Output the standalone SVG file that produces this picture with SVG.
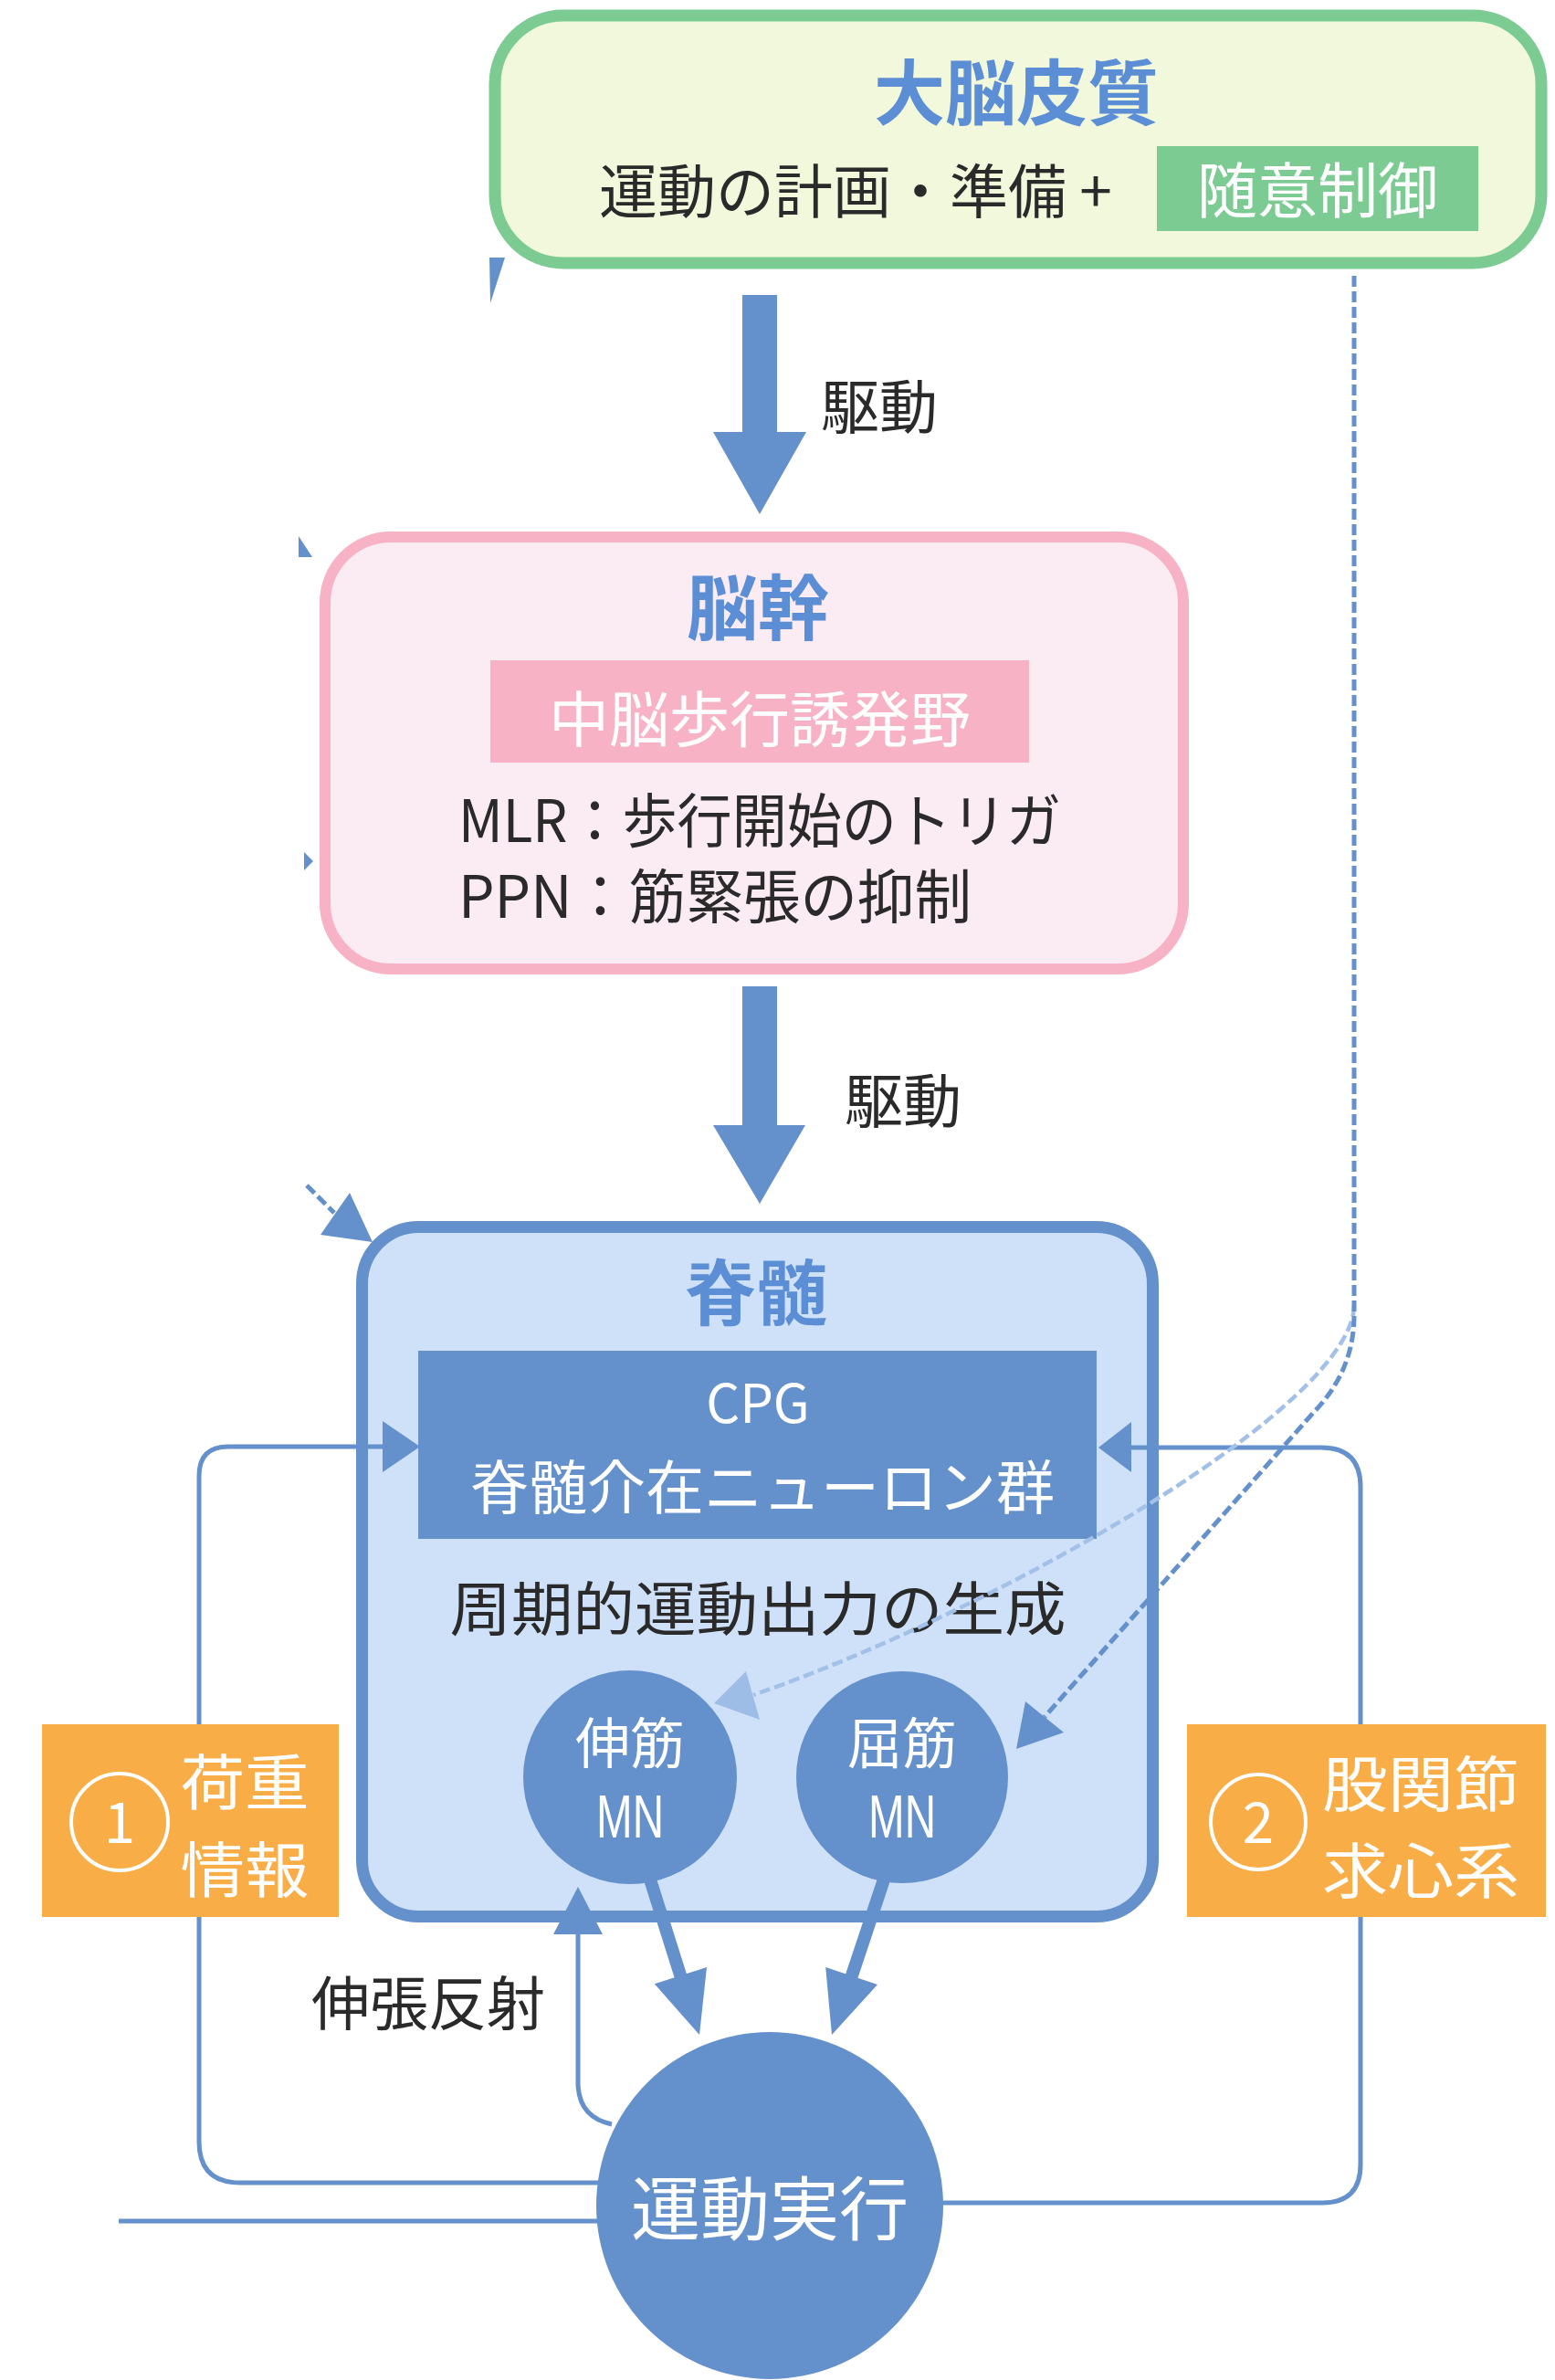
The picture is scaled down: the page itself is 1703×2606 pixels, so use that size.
<svg xmlns="http://www.w3.org/2000/svg" width="1703" height="2606" viewBox="0 0 1703 2606">
<style>
text{font-family:"Noto Sans CJK JP","Noto Sans",sans-serif;}
.title{font-size:78px;font-weight:700;fill:#5b8ed4;text-anchor:middle}
.body{font-size:64px;fill:#2a2a2a}
.wt{fill:#ffffff;text-anchor:middle}
.mid{text-anchor:middle}
.mn{font-family:"Liberation Sans",Arial,sans-serif;font-size:66px}
.loop{fill:none;stroke:#6490cb;stroke-width:5}
.dashD{fill:none;stroke:#6490cb;stroke-width:5;stroke-dasharray:12 5}
.dashL{fill:none;stroke:#a3c1e8;stroke-width:4.5;stroke-dasharray:12 5}
.blue{fill:#6490cb}
</style>
<rect width="1703" height="2606" fill="#ffffff"/>

<g id="cortex">
<rect x="542" y="17" width="1146" height="271" rx="75" fill="#f2f8dc" stroke="#7bcb93" stroke-width="13"/>
<text class="title" x="1113" y="131">大脳皮質</text>
<text class="body" x="656" y="233">運動の計画・準備 +</text>
<rect x="1267" y="160" width="352" height="93" fill="#7bcb93"/>
<text class="wt" x="1443" y="233" font-size="66" fill="#f2faf2">随意制御</text>
</g>

<g id="brainstem">
<rect x="356" y="588" width="940" height="473" rx="72" fill="#fbebf3" stroke="#f8b2c6" stroke-width="12"/>
<text class="title" x="830" y="695">脳幹</text>
<rect x="537" y="723" width="590" height="112" fill="#f8b2c6"/>
<text class="wt" x="832" y="812" font-size="66">中脳歩行誘発野</text>
<text class="body" x="502" y="922" textLength="660" lengthAdjust="spacingAndGlyphs">MLR：歩行開始のトリガ</text>
<text class="body" x="502" y="1005" textLength="562" lengthAdjust="spacingAndGlyphs">PPN：筋緊張の抑制</text>
</g>

<g id="spinal">
<rect x="396.5" y="1343.5" width="866" height="755" rx="62" fill="#cfe1f9" stroke="#6490cb" stroke-width="13"/>
<text class="title" x="828" y="1445">脊髄</text>
<rect id="cpg" x="458" y="1479" width="743" height="206" fill="#6490cb"/>
<text class="wt" font-size="64"><tspan x="830" y="1558" font-size="58">CPG</tspan><tspan x="835" y="1652">脊髄介在ニューロン群</tspan></text>
<text class="body mid" x="830" y="1785" font-size="66" textLength="675" lengthAdjust="spacingAndGlyphs">周期的運動出力の生成</text>
</g>

<g id="connectors">
<!-- drive arrows -->
<polygon class="blue" points="813,323 851,323 851,473 883,473 832,563 781,473 813,473"/>
<text class="body" x="899" y="469">駆動</text>
<polygon class="blue" points="813,1080 851,1080 851,1232 882,1232 832,1318 781,1232 813,1232"/>
<text class="body" x="925" y="1229">駆動</text>
<!-- feedback loops -->
<path class="loop" d="M420,1584 L250,1584 Q218,1584 218,1616 L218,2345 Q218,2390 263,2390 L660,2390"/>
<polygon class="blue" points="460,1584 419,1556 419,1612"/>
<path class="loop" d="M1236,1585 L1447,1585 Q1490,1585 1490,1628 L1490,2370 Q1490,2412 1448,2412 L1028,2412"/>
<polygon class="blue" points="1203,1585 1239,1557 1239,1612"/>
<path class="loop" stroke-width="6" d="M130,2432 L660,2432"/>
<!-- stretch reflex -->
<path class="loop" d="M670,2326 Q633,2318 633,2280 L633,2110"/>
<polygon class="blue" points="633,2066 660,2118 606,2118"/>
<text class="body mid" x="469" y="2217" font-size="66">伸張反射</text>
<!-- descending dashed (voluntary) -->
<path class="dashL" d="M1483,1430 C1480,1540 1100,1760 825,1856"/>
<polygon fill="#9dbce6" points="782,1865 817,1830 832,1883"/>
<path class="dashD" d="M1483,302 L1483,1440 Q1483,1500 1440,1545 L1144,1880"/>
<polygon class="blue" points="1113,1915 1123,1863 1165,1897"/>
<!-- MN output arrows -->
<line x1="712" y1="2058" x2="748" y2="2172" stroke="#6490cb" stroke-width="14"/>
<polygon class="blue" points="766,2228 716.8,2172.3 774,2154.1"/>
<line x1="968" y1="2058" x2="930" y2="2172" stroke="#6490cb" stroke-width="14"/>
<polygon class="blue" points="911,2228 961,2173 904.2,2154"/>
<!-- cut-off fragments at the left -->
<polygon class="blue" points="536,282 553,282 537,332"/>
<polygon class="blue" points="327,587 327,610 342,610"/>
<polygon class="blue" points="333,933 343,943 333,953"/>
<path class="dashD" d="M336,1298 L366,1328"/>
<polygon class="blue" points="408,1360 383,1306 351,1352"/>
</g>

<g id="mn-ext">
<circle cx="690" cy="1946" r="117" fill="#6490cb"/>
<text class="wt" font-size="60"><tspan x="690" y="1931">伸筋</tspan><tspan class="mn" x="690" y="2012" textLength="74" lengthAdjust="spacingAndGlyphs">MN</tspan></text>
</g>
<g id="mn-flex">
<circle cx="988" cy="1946" r="116" fill="#6490cb"/>
<text class="wt" font-size="60"><tspan x="988" y="1931">屈筋</tspan><tspan class="mn" x="988" y="2012" textLength="74" lengthAdjust="spacingAndGlyphs">MN</tspan></text>
</g>

<g id="load-info">
<rect x="46" y="1888" width="325" height="211" fill="#f9ad46"/>
<circle cx="131" cy="1995" r="53" fill="none" stroke="#ffffff" stroke-width="4"/>
<text class="wt" x="131" y="2018" font-size="62">1</text>
<text class="wt" font-size="66"><tspan x="268" y="1976" textLength="141" lengthAdjust="spacingAndGlyphs">荷重</tspan><tspan x="268" y="2072" textLength="141" lengthAdjust="spacingAndGlyphs">情報</tspan></text>
</g>
<g id="hip-afferent">
<rect x="1300" y="1888" width="393" height="211" fill="#f9ad46"/>
<circle cx="1378" cy="1995" r="52" fill="none" stroke="#ffffff" stroke-width="4"/>
<text class="wt" x="1378" y="2018" font-size="62">2</text>
<text class="wt" font-size="66"><tspan x="1556" y="1978" textLength="216" lengthAdjust="spacingAndGlyphs">股関節</tspan><tspan x="1556" y="2073" textLength="216" lengthAdjust="spacingAndGlyphs">求心系</tspan></text>
</g>

<g id="motor-exec">
<circle cx="843" cy="2415" r="190" fill="#6490cb"/>
<text class="wt" x="843" y="2447" font-size="76">運動実行</text>
</g>
</svg>
